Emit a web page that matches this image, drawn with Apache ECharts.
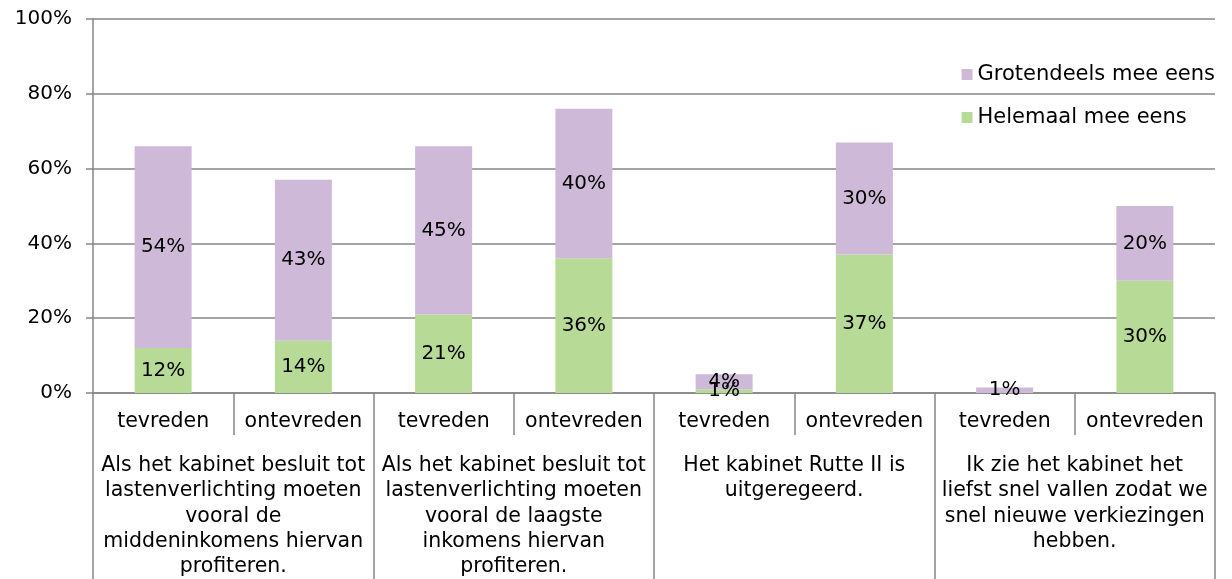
<!DOCTYPE html>
<html>
<head>
<meta charset="utf-8">
<script src="https://cdn.jsdelivr.net/npm/echarts@6/dist/echarts.min.js"></script>
<style>
html,body{margin:0;padding:0;background:#fff;}
#c{width:1232px;height:579px;}
</style>
</head>
<body>
<div id="c"></div>
<script>
var categories = ['tevreden','ontevreden','tevreden','ontevreden','tevreden','ontevreden','tevreden','ontevreden'];
var groups = [
  'Als het kabinet besluit tot\nlastenverlichting moeten\nvooral de\nmiddeninkomens hiervan\nprofiteren.',
  'Als het kabinet besluit tot\nlastenverlichting moeten\nvooral de laagste\ninkomens hiervan\nprofiteren.',
  'Het kabinet Rutte II is\nuitgeregeerd.',
  'Ik zie het kabinet het\nliefst snel vallen zodat we\nsnel nieuwe verkiezingen\nhebben.'
];
var helemaal = [12, 14, 21, 36, 1, 37, 0, 30];
var grotendeels = [54, 43, 45, 40, 4, 30, 1.5, 20];
var grotendeelsLabels = [54, 43, 45, 40, 4, 30, 1, 20];
var yTicks = [0, 20, 40, 60, 80, 100];

var FONT = 'DejaVu Sans';
var GREY = '#868686';
var chart = echarts.init(document.getElementById('c'));
chart.setOption({
  animation: false,
  textStyle: {fontFamily: FONT},
  grid: {left: 93, right: 17, top: 19, bottom: 186, containLabel: false, outerBoundsMode: 'none'},
  legend: {
    orient: 'vertical', right: 12, top: 59, itemGap: 22,
    icon: 'rect', itemWidth: 11, itemHeight: 11,
    textStyle: {fontFamily: FONT, fontSize: 21, color: '#000'},
    data: ['Grotendeels mee eens', 'Helemaal mee eens']
  },
  xAxis: [{
    type: 'category', data: categories, position: 'bottom',
    axisLine: {show: true, lineStyle: {color: GREY, width: 1.5}},
    axisTick: {show: true, length: 42, lineStyle: {color: GREY, width: 1.5}, interval: 0, alignWithLabel: false},
    axisLabel: {fontFamily: FONT, fontSize: 20.5, color: '#000', margin: 18, interval: 0}
  }, {
    type: 'category', data: groups, position: 'bottom', offset: 0,
    axisLine: {show: false},
    axisTick: {show: true, length: 186, lineStyle: {color: GREY, width: 1.5}, interval: 0},
    axisLabel: {fontFamily: FONT, fontSize: 20.5, color: '#000', margin: 60, lineHeight: 25.3, interval: 0, align: 'center'}
  }],
  yAxis: {
    type: 'value', min: yTicks[0], max: yTicks[yTicks.length-1], interval: 20,
    axisLine: {show: true, lineStyle: {color: GREY, width: 1.5}},
    axisTick: {show: true, length: 7, lineStyle: {color: GREY, width: 1.5}},
    splitLine: {lineStyle: {color: GREY, width: 1.5}},
    axisLabel: {fontFamily: FONT, fontSize: 20, color: '#000', margin: 21, formatter: '{value}%'}
  },
  series: [{
    name: 'Helemaal mee eens', type: 'bar', stack: 's', barWidth: 57,
    data: helemaal, xAxisIndex: 0,
    itemStyle: {color: '#b7da96'},
    label: {show: true, position: 'inside', color: '#000', fontFamily: FONT, fontSize: 20,
      formatter: function(p){ return p.value > 0 ? p.value + '%' : ''; }}
  }, {
    name: 'Grotendeels mee eens', type: 'bar', stack: 's', barWidth: 57,
    data: grotendeels, xAxisIndex: 0,
    itemStyle: {color: '#cfb9d9'},
    label: {show: true, position: 'inside', color: '#000', fontFamily: FONT, fontSize: 20,
      formatter: function(p){ return grotendeelsLabels[p.dataIndex] + '%'; }}
  }]
});
</script>
</body>
</html>
